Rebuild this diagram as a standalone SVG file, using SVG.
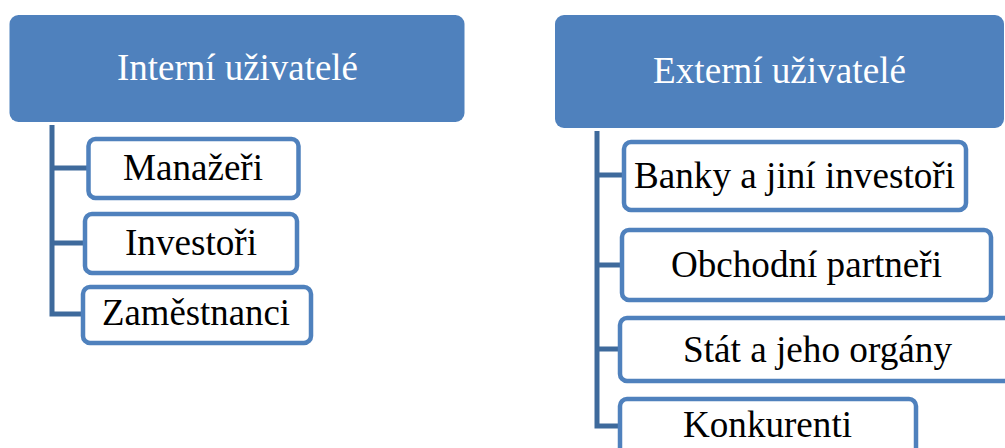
<svg xmlns="http://www.w3.org/2000/svg" width="1005" height="448" viewBox="0 0 1005 448">
<style>
.hdr{fill:#4F81BD;}
.hdrt{fill:#FFFFFF;font-family:"Liberation Serif","Times New Roman",serif;font-size:38px;}
.box{fill:#FFFFFF;stroke:#4F81BD;stroke-width:4.5;}
.bt{fill:#000000;font-family:"Liberation Serif","Times New Roman",serif;font-size:37px;}
.con{fill:none;stroke:#3E6A9C;stroke-width:5;}
</style>
<rect width="1005" height="448" fill="#FFFFFF"/>
<g id="connectors">
<path class="con" d="M52,125 V314 H84 M52,168 H88 M52,243 H85"/>
<path class="con" d="M597,131 V426 H620 M597,175 H624 M597,265 H622 M597,349 H620"/>
</g>
<g id="interni">
<rect class="hdr" x="9.5" y="15" width="455" height="107" rx="9"/>
<text class="hdrt" x="117" y="80" textLength="241" lengthAdjust="spacingAndGlyphs">Interní uživatelé</text>
</g>
<g id="manazeri">
<rect class="box" x="88.5" y="139" width="210" height="59" rx="7"/>
<text class="bt" x="123" y="180" textLength="140" lengthAdjust="spacingAndGlyphs">Manažeři</text>
</g>
<g id="investori">
<rect class="box" x="85" y="214" width="212" height="59" rx="7"/>
<text class="bt" x="125" y="255" textLength="132" lengthAdjust="spacingAndGlyphs">Investoři</text>
</g>
<g id="zamestnanci">
<rect class="box" x="83" y="287" width="228" height="56" rx="7"/>
<text class="bt" x="102" y="325" textLength="188" lengthAdjust="spacingAndGlyphs">Zaměstnanci</text>
</g>
<g id="externi">
<rect class="hdr" x="555" y="15" width="449" height="113" rx="9"/>
<text class="hdrt" x="653" y="83" textLength="253" lengthAdjust="spacingAndGlyphs">Externí uživatelé</text>
</g>
<g id="banky">
<rect class="box" x="624" y="142" width="342" height="68" rx="7"/>
<text class="bt" x="634" y="188" textLength="321" lengthAdjust="spacingAndGlyphs">Banky a jiní investoři</text>
</g>
<g id="obchodni">
<rect class="box" x="622" y="230" width="369" height="70" rx="7"/>
<text class="bt" x="671" y="277" textLength="271" lengthAdjust="spacingAndGlyphs">Obchodní partneři</text>
</g>
<g id="stat">
<rect class="box" x="620" y="318" width="400" height="63" rx="7"/>
<text class="bt" x="683" y="362" textLength="269" lengthAdjust="spacingAndGlyphs">Stát a jeho orgány</text>
</g>
<g id="konkurenti">
<rect class="box" x="620" y="399" width="296" height="70" rx="7"/>
<text class="bt" x="683" y="437" textLength="169" lengthAdjust="spacingAndGlyphs">Konkurenti</text>
</g>
</svg>
